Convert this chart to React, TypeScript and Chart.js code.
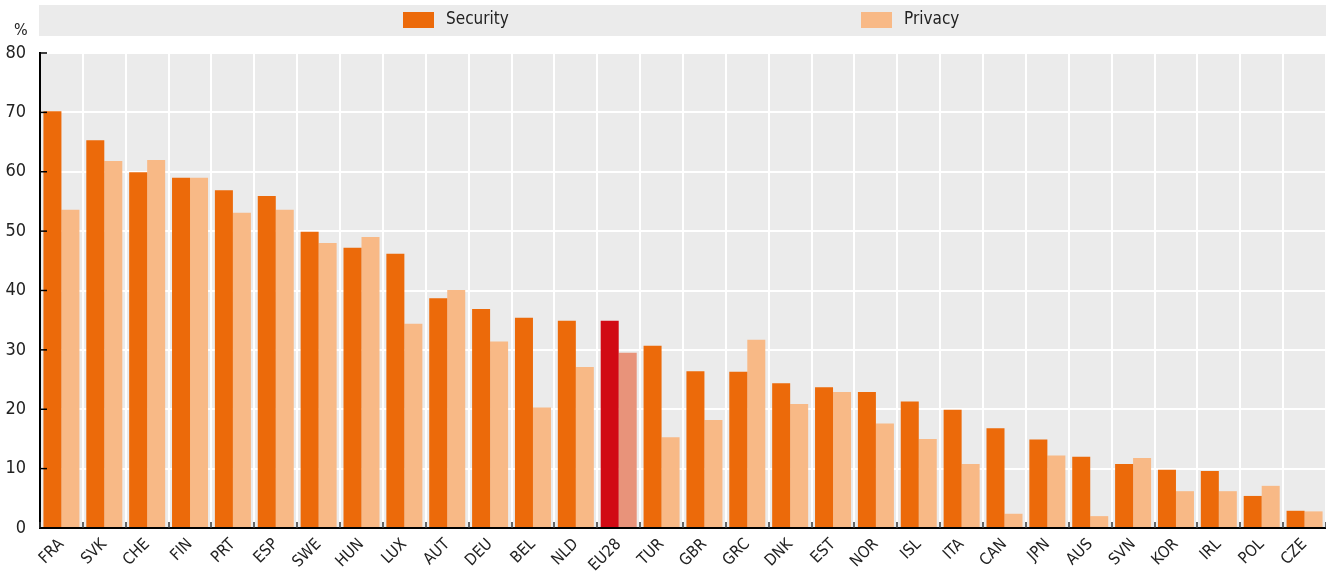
import React, { useEffect, useRef } from "react";
import { Chart, registerables } from "chart.js";

Chart.register(...registerables);

const categories = ["FRA","SVK","CHE","FIN","PRT","ESP","SWE","HUN","LUX","AUT","DEU","BEL","NLD","EU28","TUR","GBR","GRC","DNK","EST","NOR","ISL","ITA","CAN","JPN","AUS","SVN","KOR","IRL","POL","CZE"];
const security = [70.2,65.3,59.9,59.0,56.9,55.9,49.9,47.2,46.2,38.7,36.9,35.4,34.9,34.9,30.7,26.4,26.3,24.4,23.7,22.9,21.3,19.9,16.8,14.9,12.0,10.8,9.8,9.6,5.4,2.9];
const privacy = [53.6,61.8,62.0,59.0,53.1,53.6,48.0,49.0,34.4,40.1,31.4,20.3,27.1,29.5,15.3,18.2,31.7,20.9,22.9,17.6,15.0,10.8,2.4,12.2,2.0,11.8,6.2,6.2,7.1,2.8];
const yTicks = [0,10,20,30,40,50,60,70,80];
const highlight = "EU28";

const FONT = "'DejaVu Sans Condensed', 'Liberation Sans Narrow', 'Arial Narrow', sans-serif";
const SEC = "#EC6A0A";
const PRI = "#F8B986";
const SEC_H = "#D10A14";
const PRI_H = "#E8937A";

const decor = {
  id: "decor",
  beforeDraw(chart: any) {
    const { ctx, chartArea: a } = chart;
    ctx.save();
    ctx.fillStyle = "#EBEBEB";
    ctx.fillRect(a.left, a.top, a.right - a.left, a.bottom - a.top);
    // legend band
    ctx.fillRect(39, 5, chart.width - 39, 31);
    const items = [
      { x: 403, label: chart.data.datasets[0].label, color: SEC },
      { x: 861, label: chart.data.datasets[1].label, color: PRI },
    ];
    ctx.font = "17px " + FONT;
    ctx.textBaseline = "middle";
    ctx.textAlign = "left";
    for (const it of items) {
      ctx.fillStyle = it.color;
      ctx.fillRect(it.x, 12, 31, 16);
      ctx.fillStyle = "#222";
      ctx.fillText(it.label, it.x + 43, 20);
    }
    ctx.font = "16px " + FONT;
    ctx.fillText("%", 14, 31);
    ctx.restore();
  },
  afterDraw(chart: any) {
    const { ctx, chartArea: a, scales } = chart;
    ctx.save();
    ctx.strokeStyle = "#333";
    ctx.lineWidth = 1.5;
    const xs = scales.x;
    for (let i = 0; i <= categories.length; i++) {
      const x = Math.round(xs.left + (i * (xs.right - xs.left)) / categories.length);
      ctx.beginPath();
      ctx.moveTo(x, a.bottom);
      ctx.lineTo(x, a.bottom - 6);
      ctx.stroke();
    }
    const ys = scales.y;
    ctx.strokeStyle = "#000";
    for (const v of yTicks) {
      const y = ys.getPixelForValue(v);
      ctx.beginPath();
      ctx.moveTo(a.left, y);
      ctx.lineTo(a.left + 7, y);
      ctx.stroke();
    }
    ctx.restore();
  },
};

export default function App() {
  const ref = useRef<HTMLCanvasElement>(null);
  useEffect(() => {
    document.body.style.margin = "0";
    const chart = new Chart(ref.current!, {
      type: "bar",
      data: {
        labels: categories,
        datasets: [
          {
            label: "Security",
            data: security,
            backgroundColor: categories.map((c) => (c === highlight ? SEC_H : SEC)),
            categoryPercentage: 0.84,
            barPercentage: 1.0,
          },
          {
            label: "Privacy",
            data: privacy,
            backgroundColor: categories.map((c) => (c === highlight ? PRI_H : PRI)),
            categoryPercentage: 0.84,
            barPercentage: 1.0,
          },
        ],
      },
      options: {
        animation: false,
        responsive: false,
        maintainAspectRatio: false,
        layout: { padding: { top: 53, right: 0, left: 0, bottom: 0 } },
        plugins: { legend: { display: false }, tooltip: { enabled: false } },
        scales: {
          x: {
            offset: true,
            grid: { offset: true, color: "#FFFFFF", lineWidth: 2, drawTicks: false },
            border: { color: "#000", width: 2 },
            afterFit: (s: any) => { s.height = 44; },
            ticks: {
              color: "#222",
              font: { family: FONT, size: 16 },
              minRotation: 45,
              maxRotation: 45,
              padding: 7,
              autoSkip: false,
            },
          },
          y: {
            min: 0,
            max: 80,
            grid: { color: "#FFFFFF", lineWidth: 2, drawTicks: false },
            border: { color: "#000", width: 2 },
            afterFit: (s: any) => { s.width = 40; },
            ticks: {
              stepSize: 10,
              color: "#222",
              font: { family: FONT, size: 18 },
              padding: 14,
            },
          },
        },
      },
      plugins: [decor],
    });
    return () => chart.destroy();
  }, []);
  return (
    <div style={{ position: "absolute", left: 0, top: 0, width: 1326, height: 572 }}>
      <canvas ref={ref} width={1326} height={572} style={{ width: 1326, height: 572 }} />
    </div>
  );
}
